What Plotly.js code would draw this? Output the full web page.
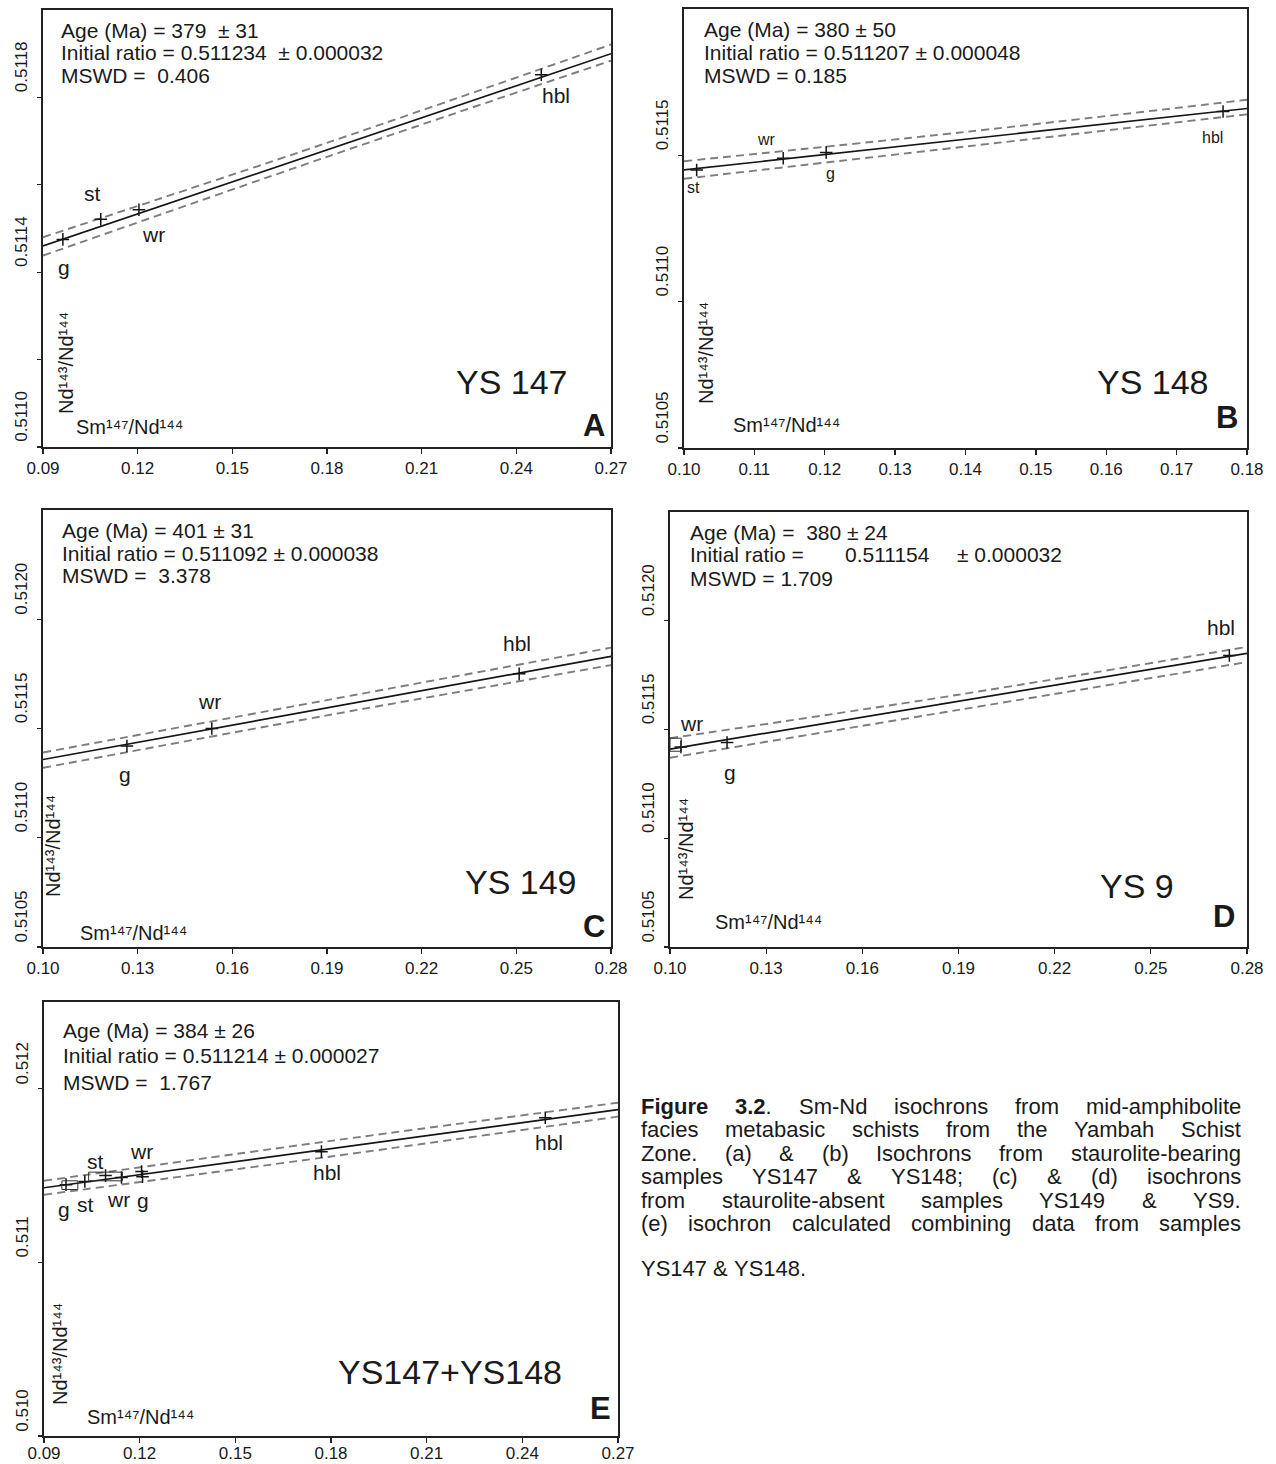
<!DOCTYPE html>
<html><head><meta charset="utf-8">
<script src="https://cdn.plot.ly/plotly-3.0.1.min.js"></script>
<style>html,body{margin:0;padding:0;background:#fff;} #chart{width:1276px;height:1464px;}</style>
</head><body><div id="chart"></div>
<script>
const W = 1276, H = 1464;
const FONT = '"Liberation Sans", Arial, Helvetica, sans-serif';
const INK = '#1a1a1a';
const NB = '\u00a0';

// ---------------- Panel A : YS 147 ----------------
const aLabels = ['g', 'st', 'wr', 'hbl'];
const aSm = [0.0963, 0.1083, 0.1204, 0.2479];
const aNd = [0.511475, 0.511521, 0.511543, 0.511852];
const aLineX = [0.09, 0.27];
const aLineY = [0.51146, 0.51190];
const aEnvX = [0.09, 0.18, 0.27];
const aEnvUp = [0.511480, 0.511696, 0.511921];
const aEnvLo = [0.511438, 0.511664, 0.511884];
const aXTicks = [0.09, 0.12, 0.15, 0.18, 0.21, 0.24, 0.27];
const aYTicks = [0.5110, 0.5112, 0.5114, 0.5116, 0.5118];
const aYTickText = ['0.5110', ' ', '0.5114', ' ', '0.5118'];
const aStats = ['Age (Ma) = 379 ' + NB + '± 31', 'Initial ratio = 0.511234 ' + NB + '± 0.000032', 'MSWD = ' + NB + '0.406'];

// ---------------- Panel B : YS 148 ----------------
const bLabels = ['st', 'wr', 'g', 'hbl'];
const bSm = [0.1018, 0.1141, 0.1202, 0.1766];
const bNd = [0.51145, 0.51149, 0.51151, 0.51165];
const bLineX = [0.10, 0.18];
const bLineY = [0.51145, 0.51166];
const bEnvX = [0.10, 0.14, 0.18];
const bEnvUp = [0.51148, 0.51158, 0.51169];
const bEnvLo = [0.51142, 0.51153, 0.51164];
const bXTicks = [0.10, 0.11, 0.12, 0.13, 0.14, 0.15, 0.16, 0.17, 0.18];
const bYTicks = [0.5105, 0.5110, 0.5115];
const bYTickText = ['0.5105', '0.5110', '0.5115'];
const bStats = ['Age (Ma) = 380 ± 50', 'Initial ratio = 0.511207 ± 0.000048', 'MSWD = 0.185'];

// ---------------- Panel C : YS 149 ----------------
const cLabels = ['g', 'wr', 'hbl'];
const cSm = [0.1266, 0.1535, 0.2509];
const cNd = [0.51142, 0.51150, 0.51175];
const cLineX = [0.10, 0.28];
const cLineY = [0.511358, 0.51183];
const cEnvX = [0.10, 0.19, 0.28];
const cEnvUp = [0.51139, 0.51163, 0.51187];
const cEnvLo = [0.51132, 0.51156, 0.51179];
const cXTicks = [0.10, 0.13, 0.16, 0.19, 0.22, 0.25, 0.28];
const cYTicks = [0.5105, 0.5110, 0.5115, 0.5120];
const cYTickText = ['0.5105', '0.5110', '0.5115', '0.5120'];
const cStats = ['Age (Ma) = 401 ± 31', 'Initial ratio = 0.511092 ± 0.000038', 'MSWD = ' + NB + '3.378'];

// ---------------- Panel D : YS 9 ----------------
const dLabels = ['wr', 'g', 'hbl'];
const dSm = [0.1034, 0.1178, 0.2745];
const dNd = [0.51142, 0.51144, 0.51184];
const dLineX = [0.10, 0.28];
const dLineY = [0.51141, 0.51185];
const dEnvX = [0.10, 0.19, 0.28];
const dEnvUp = [0.51146, 0.51166, 0.51188];
const dEnvLo = [0.51137, 0.51159, 0.51181];
const dBoxX = [[0.1000, 0.1035]];
const dBoxY = [[0.51140, 0.51146]];
const dXTicks = [0.10, 0.13, 0.16, 0.19, 0.22, 0.25, 0.28];
const dYTicks = [0.5105, 0.5110, 0.5115, 0.5120];
const dYTickText = ['0.5105', '0.5110', '0.5115', '0.5120'];
const dStatAge = 'Age (Ma) = ' + NB + '380 ± 24';
const dStatRatio = ['Initial ratio =', '0.511154', '± 0.000032'];
const dStatMswd = 'MSWD = 1.709';

// ---------------- Panel E : YS147 + YS148 ----------------
const eLabels = ['g', 'st', 'st', 'wr', 'wr', 'g', 'hbl', 'hbl'];
const eSm = [0.0969, 0.1028, 0.1093, 0.1143, 0.1206, 0.1209, 0.1770, 0.2472];
const eNd = [0.511448, 0.511466, 0.511500, 0.511489, 0.511523, 0.511494, 0.511638, 0.511833];
const eLineX = [0.09, 0.27];
const eLineY = [0.51143, 0.51188];
const eEnvX = [0.09, 0.18, 0.27];
const eEnvUp = [0.51147, 0.51170, 0.51192];
const eEnvLo = [0.51139, 0.51161, 0.51184];
const eBoxX = [[0.0956, 0.1006], [0.1040, 0.1146]];
const eBoxY = [[0.51142, 0.51147], [0.51147, 0.51152]];
const eXTicks = [0.09, 0.12, 0.15, 0.18, 0.21, 0.24, 0.27];
const eYTicks = [0.510, 0.511, 0.512];
const eYTickText = ['0.510', '0.511', '0.512'];
const eStats = ['Age (Ma) = 384 ± 26', 'Initial ratio = 0.511214 ± 0.000027', 'MSWD = ' + NB + '1.767'];

const axisXTitle = 'Sm\u00b9\u2074\u2077/Nd\u00b9\u2074\u2074';
const axisYTitle = 'Nd\u00b9\u2074\u00b3/Nd\u00b9\u2074\u2074';

const captionLines = [
  '<b>Figure</b> <b>3.2</b>. Sm-Nd isochrons from mid-amphibolite',
  'facies metabasic schists from the Yambah Schist',
  'Zone. (a) & (b) Isochrons from staurolite-bearing',
  'samples YS147 & YS148; (c) & (d) isochrons',
  'from staurolite-absent samples YS149 & YS9.',
  '(e) isochron calculated combining data from samples',
  'YS147 & YS148.'
];

// ---------------- layout helpers (pixel boxes of the panels) ----------------
const panels = [
  {id: '',  box: [43, 611, 10, 447],   xr: [0.09, 0.27], yr: [0.5110, 0.5120], xt: aXTicks, yt: aYTicks, ytt: aYTickText, shift: -28, xs: 0},
  {id: '2', box: [684, 1247, 9, 448],  xr: [0.10, 0.18], yr: [0.5105, 0.5120], xt: bXTicks, yt: bYTicks, ytt: bYTickText, shift: -28, xs: 0},
  {id: '3', box: [43, 611, 510, 947],  xr: [0.10, 0.28], yr: [0.5105, 0.5125], xt: cXTicks, yt: cYTicks, ytt: cYTickText, shift: -28, xs: 0},
  {id: '4', box: [670, 1247, 512, 947],xr: [0.10, 0.28], yr: [0.5105, 0.5125], xt: dXTicks, yt: dYTicks, ytt: dYTickText, shift: -28, xs: 0},
  {id: '5', box: [44, 618, 1002, 1436],xr: [0.09, 0.27], yr: [0.5100, 0.5125], xt: eXTicks, yt: eYTicks, ytt: eYTickText, shift: -23, xs: -4}
];

const layout = {
  width: W, height: H, margin: {l: 0, r: 0, t: 0, b: 0},
  paper_bgcolor: '#fff', plot_bgcolor: '#fff', showlegend: false,
  font: {family: FONT, color: INK, size: 17},
  annotations: [], shapes: []
};

panels.forEach(p => {
  const [x0, x1, y0, y1] = p.box;
  layout['xaxis' + p.id] = {
    domain: [x0 / W, x1 / W], range: p.xr, anchor: 'y' + p.id,
    tickmode: 'array', tickvals: p.xt, ticktext: p.xt.map(v => v.toFixed(2)),
    ticklabelstandoff: p.xs,
    showline: true, mirror: true, linecolor: '#222', linewidth: 1.6,
    ticks: 'outside', ticklen: 5, tickwidth: 1.3, tickcolor: '#222',
    showgrid: false, zeroline: false, fixedrange: true,
    tickfont: {family: FONT, size: 17, color: INK}
  };
  layout['yaxis' + p.id] = {
    domain: [1 - y1 / H, 1 - y0 / H], range: p.yr, anchor: 'x' + p.id,
    tickmode: 'array', tickvals: p.yt, ticktext: p.ytt, tickangle: -90,
    ticklabelshift: p.shift, ticklabelstandoff: 4,
    showline: true, mirror: true, linecolor: '#222', linewidth: 1.6,
    ticks: 'outside', ticklen: 4, tickwidth: 1.3, tickcolor: '#222',
    showgrid: false, zeroline: false, fixedrange: true,
    tickfont: {family: FONT, size: 17, color: INK}
  };
});

const traces = [];
function addPanel(id, sm, nd, lineX, lineY, envX, envUp, envLo) {
  const xa = 'x' + id, ya = 'y' + id;
  const dash = {color: '#7d7d7d', width: 1.9, dash: '8px,5px', shape: 'spline'};
  traces.push({x: envX, y: envUp, xaxis: xa, yaxis: ya, mode: 'lines', line: dash, hoverinfo: 'skip'});
  traces.push({x: envX, y: envLo, xaxis: xa, yaxis: ya, mode: 'lines', line: dash, hoverinfo: 'skip'});
  traces.push({x: lineX, y: lineY, xaxis: xa, yaxis: ya, mode: 'lines', line: {color: '#151515', width: 1.7}, hoverinfo: 'skip'});
  traces.push({x: sm, y: nd, xaxis: xa, yaxis: ya, mode: 'markers',
    marker: {symbol: 'cross-thin', size: 9, color: '#151515', line: {width: 1.5, color: '#151515'}}});
}
addPanel('', aSm, aNd, aLineX, aLineY, aEnvX, aEnvUp, aEnvLo);
addPanel('2', bSm, bNd, bLineX, bLineY, bEnvX, bEnvUp, bEnvLo);
addPanel('3', cSm, cNd, cLineX, cLineY, cEnvX, cEnvUp, cEnvLo);
addPanel('4', dSm, dNd, dLineX, dLineY, dEnvX, dEnvUp, dEnvLo);
addPanel('5', eSm, eNd, eLineX, eLineY, eEnvX, eEnvUp, eEnvLo);

function addBoxes(id, bx, by) {
  bx.forEach((xx, i) => layout.shapes.push({type: 'rect', xref: 'x' + id, yref: 'y' + id,
    x0: xx[0], x1: xx[1], y0: by[i][0], y1: by[i][1], line: {color: '#333', width: 1}}));
}
addBoxes('4', dBoxX, dBoxY);
addBoxes('5', eBoxX, eBoxY);

// point labels, attached to the data points with pixel offsets
function addPointLabels(id, sm, nd, labels, offsets, size) {
  labels.forEach((t, i) => layout.annotations.push({
    xref: 'x' + id, yref: 'y' + id, x: sm[i], y: nd[i], text: t, showarrow: false,
    xshift: offsets[i][0], yshift: offsets[i][1], font: {family: FONT, size: size, color: INK}
  }));
}
addPointLabels('', aSm, aNd, aLabels, [[1, -28], [-8, 26], [15, -25], [15, -21]], 21);
addPointLabels('2', bSm, bNd, bLabels, [[-3, -18], [-17, 19], [4, -21], [-11, -26]], 16);
addPointLabels('3', cSm, cNd, cLabels, [[-2, -29], [-2, 27], [-2, 30]], 21);
addPointLabels('4', dSm, dNd, dLabels, [[11, 23], [3, -30], [-8, 28]], 21);
addPointLabels('5', eSm, eNd, eLabels, [[-2, -25], [1, -23], [-10, 14], [-3, -22], [0, 20], [0, -24], [6, -21], [4, -25]], 21);

const STAT_SIZE = 21;
function txt(px, py, text, opt) {
  layout.annotations.push(Object.assign({
    xref: 'paper', yref: 'paper', x: px / W, y: 1 - py / H, text: text, showarrow: false,
    xanchor: 'left', yanchor: 'middle', font: {family: FONT, size: STAT_SIZE, color: INK}
  }, opt || {}));
}
function stats(px, ys, lines) { lines.forEach((l, i) => txt(px, ys[i], l)); }
stats(59, [31, 53, 75], aStats);
stats(702, [30, 52, 75], bStats);
stats(60, [531, 553, 575], cStats);
txt(688, 532, dStatAge); txt(688, 555, dStatRatio[0]); txt(843, 555, dStatRatio[1]); txt(955, 555, dStatRatio[2]); txt(688, 578, dStatMswd);
stats(61, [1030, 1055, 1082], eStats);

// in-plot axis titles
const yTitlePos = [[66, 363], [706, 353], [53, 846], [686, 849], [60, 1354]];
const xTitlePos = [[129, 427], [786, 425], [133, 933], [768, 922], [140, 1417]];
yTitlePos.forEach(p => txt(p[0], p[1], axisYTitle, {xanchor: 'center', textangle: -90, font: {family: FONT, size: 20, color: INK}}));
xTitlePos.forEach(p => txt(p[0], p[1], axisXTitle, {xanchor: 'center', font: {family: FONT, size: 20, color: INK}}));

// sample names and panel letters
const sampleNames = ['YS 147', 'YS 148', 'YS 149', 'YS 9', 'YS147+YS148'];
const namePos = [[512, 382], [1153, 382], [521, 882], [1137, 886], [450, 1372]];
const panelLetters = ['A', 'B', 'C', 'D', 'E'];
const letterPos = [[594, 425], [1227, 418], [594, 926], [1224, 917], [600, 1408]];
sampleNames.forEach((s, i) => txt(namePos[i][0], namePos[i][1], s, {xanchor: 'center', font: {family: FONT, size: 34, color: INK}}));
panelLetters.forEach((s, i) => txt(letterPos[i][0], letterPos[i][1], '<b>' + s + '</b>', {xanchor: 'center', font: {family: FONT, size: 31, color: INK}}));

// caption, justified word by word
const CAP_SIZE = 22, CAP_L = 640, CAP_R = 1240;
const capY = [1106, 1129.5, 1153, 1176.5, 1200, 1223.5, 1268];
const cv = document.createElement('canvas').getContext('2d');
function measure(tok) {
  let w = 0; const re = /<b>(.*?)<\/b>|([^<]+)/g; let m;
  while ((m = re.exec(tok))) {
    if (m[1] !== undefined) { cv.font = 'bold ' + CAP_SIZE + 'px ' + FONT; w += cv.measureText(m[1]).width; }
    else { cv.font = CAP_SIZE + 'px ' + FONT; w += cv.measureText(m[2]).width; }
  }
  return w;
}
captionLines.forEach((line, li) => {
  const toks = line.split(' ');
  const widths = toks.map(measure);
  const total = widths.reduce((a, b) => a + b, 0);
  const last = li === captionLines.length - 1;
  cv.font = CAP_SIZE + 'px ' + FONT;
  const gap = last ? cv.measureText(' ').width : (CAP_R - CAP_L - total) / (toks.length - 1);
  let x = CAP_L;
  toks.forEach((t, i) => {
    txt(x, capY[li], t, {font: {family: FONT, size: CAP_SIZE, color: INK}, borderpad: 0});
    x += widths[i] + gap;
  });
});

Plotly.newPlot('chart', traces, layout, {staticPlot: true, displayModeBar: false});
</script></body></html>
